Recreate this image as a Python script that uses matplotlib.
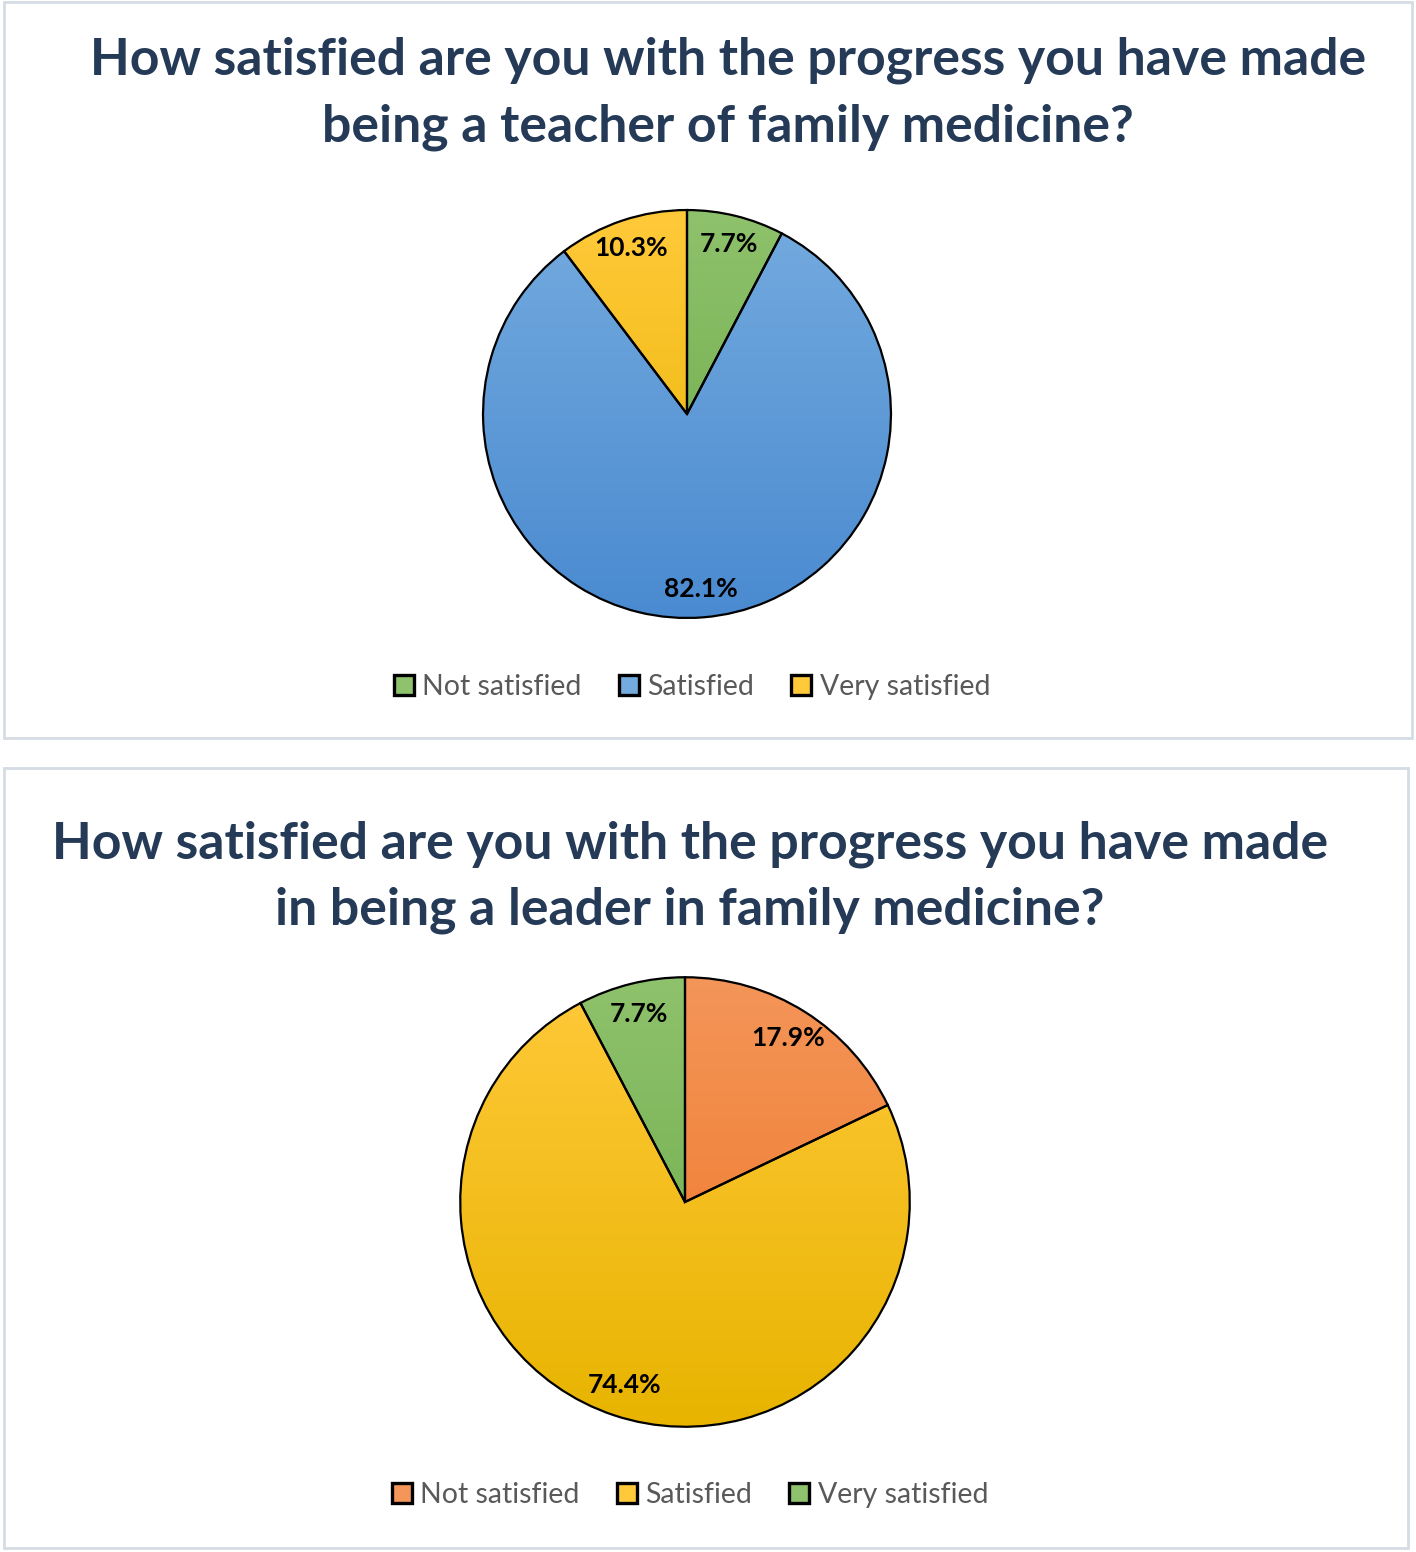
import matplotlib
matplotlib.use("Agg")
import matplotlib.pyplot as plt
import numpy as np
from matplotlib.patches import Rectangle, Patch
from matplotlib.colors import LinearSegmentedColormap

W, H = 1416, 1552
DPI = 100

# ---- data ----
labels1 = ["Not satisfied", "Satisfied", "Very satisfied"]
values1 = [7.7, 82.1, 10.3]
title1 = "How satisfied are you with the progress you have made\nbeing a teacher of family medicine?"

labels2 = ["Not satisfied", "Satisfied", "Very satisfied"]
values2 = [17.9, 74.4, 7.7]
title2 = "How satisfied are you with the progress you have made\nin being a leader in family medicine?"

# gradient colours (top, bottom)
GREEN = ("#8EC26C", "#6BA845")
BLUE = ("#74ABDF", "#4A8AD0")
YELLOW = ("#FFC93A", "#E8B400")
ORANGE = ("#F49559", "#EE7522")

colors1 = [GREEN, BLUE, YELLOW]
colors2 = [ORANGE, YELLOW, GREEN]

TITLE_COLOR = "#243A56"
LEGEND_TEXT = "#595959"
FONT = ["Lato", "DejaVu Sans"]

fig = plt.figure(figsize=(W / DPI, H / DPI), dpi=DPI)
fig.patch.set_facecolor("white")


def px_axes(cx, cy, r):
    return fig.add_axes([(cx - r) / W, 1 - (cy + r) / H, 2 * r / W, 2 * r / H])


def draw_pie(ax, values, cols):
    wedges, texts, autotexts = ax.pie(
        values, startangle=90, counterclock=False, radius=1.0,
        colors=[c[0] for c in cols], autopct="%.1f%%", pctdistance=0.86,
        wedgeprops=dict(edgecolor="black", linewidth=1.6),
        textprops=dict(fontsize=19, fontweight="bold", color="black",
                       family=FONT))
    for t, v in zip(autotexts, values):
        t.set_text(f"{v:.1f}%")
        t.set_zorder(5)
    grad = np.linspace(0, 1, 256).reshape(-1, 1)
    for w, c in zip(wedges, cols):
        cmap = LinearSegmentedColormap.from_list("g", [c[0], c[1]])
        im = ax.imshow(grad, extent=(-1, 1, -1, 1), cmap=cmap, aspect="auto",
                       zorder=1, origin="upper")
        im.set_clip_path(w)
        w.set_facecolor("none")
        w.set_zorder(3)
    ax.set_xlim(-1.01, 1.01)
    ax.set_ylim(-1.01, 1.01)
    ax.set_aspect("equal")
    ax.axis("off")
    return wedges


def panel_border(x0, y0, x1, y1):
    fig.patches.append(Rectangle((x0 / W, 1 - y1 / H), (x1 - x0) / W, (y1 - y0) / H,
                                 transform=fig.transFigure, fill=False,
                                 edgecolor="#D5DCE4", linewidth=2.0))


def legend(labels, cols, cx, cy):
    handles = [Patch(facecolor=c[0], edgecolor="black", linewidth=2.4) for c in cols]
    fig.legend(handles, labels, loc="center", bbox_to_anchor=(cx / W, 1 - cy / H),
               ncol=3, frameon=False, handlelength=0.7, handleheight=0.7,
               handletextpad=0.3, columnspacing=1.3,
               prop=dict(family=FONT, size=20.5),
               labelcolor=LEGEND_TEXT)


# panel 1
panel_border(4, 2, 1412, 738)
fig.text(728 / W, 1 - 94 / H, title1, ha="center", va="center", fontsize=37.3,
         fontweight="bold", color=TITLE_COLOR, family=FONT,
         linespacing=1.5)
ax1 = px_axes(687, 414, 206)
draw_pie(ax1, values1, colors1)
legend(labels1, colors1, 692, 687)

# panel 2
panel_border(4, 768, 1408, 1548)
fig.text(690 / W, 1 - 877 / H, title2, ha="center", va="center", fontsize=37.3,
         fontweight="bold", color=TITLE_COLOR, family=FONT,
         linespacing=1.5)
ax2 = px_axes(685, 1202, 227)
draw_pie(ax2, values2, colors2)
legend(labels2, colors2, 690, 1495)

fig.savefig("out.png", dpi=DPI)
